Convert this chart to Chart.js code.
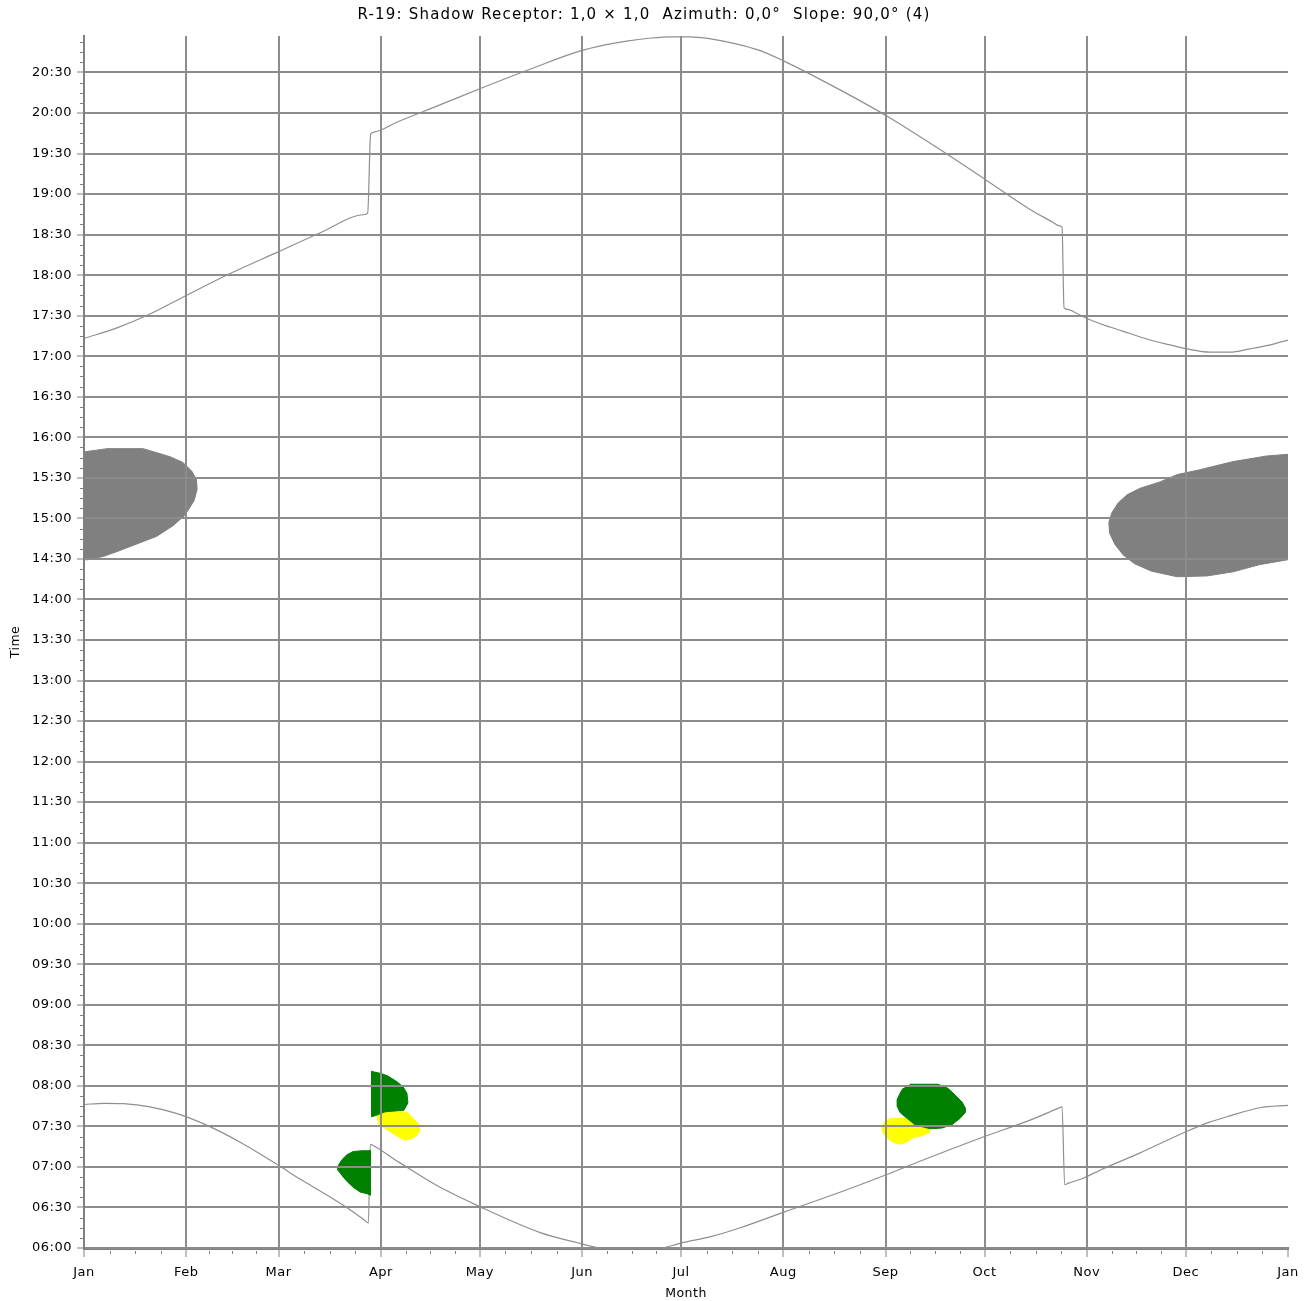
<!DOCTYPE html>
<html>
<head>
<meta charset="utf-8">
<title>R-19 Shadow Receptor</title>
<script src="https://cdn.jsdelivr.net/npm/chart.js@4"></script>
<style>
  html, body { margin: 0; padding: 0; background: #fff; }
  #wrap { width: 1316px; height: 1301px; }
</style>
</head>
<body>
<div id="wrap"><canvas id="shadowChart"></canvas></div>
<script>
// Monate: Tag im Jahr, an dem der Monat beginnt
const monthLabels = ["Jan", "Feb", "Mar", "Apr", "May", "Jun", "Jul", "Aug", "Sep", "Oct", "Nov", "Dec", "Jan"];
const monthStarts = [0, 31, 59, 90, 120, 151, 181, 212, 243, 273, 304, 334, 365];

// Zeitachse in Stunden
const timeMin = 6;
const timeMax = 20.95;
const timeTicks = Array.from({ length: 30 }, (_, i) => 6 + i * 0.5);

// Sonnenaufgang [Tag, Stunde]
const sunrise = [
  [0, 7.77], [6, 7.785], [12, 7.78], [20, 7.74], [28, 7.66], [38, 7.50], [48, 7.29],
  [59, 7.02], [65.5, 6.85], [73, 6.67], [80, 6.49], [85, 6.345], [86.2, 6.31],
  [86.8, 7.28], [87.8, 7.26], [95.8, 7.05], [107, 6.77], [120, 6.51], [138.3, 6.19],
  [151, 6.05], [156, 6.00], [160, 5.97], [166, 5.95], [172, 5.97], [175.5, 6.00],
  [181, 6.06], [190, 6.14], [199, 6.25], [212, 6.44], [230, 6.70], [243, 6.90],
  [254, 7.08], [272, 7.36], [287, 7.58], [295.5, 7.725], [296.5, 7.74], [297.3, 6.78],
  [298.5, 6.80], [302.9, 6.86], [308, 6.96], [320, 7.17], [334.4, 7.44], [341, 7.55],
  [347.4, 7.63], [356.5, 7.73], [365, 7.76]
];

// Sonnenuntergang [Tag, Stunde]
const sunset = [
  [0, 17.22], [10, 17.35], [20, 17.52], [31, 17.75], [44.3, 18.02], [59, 18.29],
  [71.5, 18.52], [84.8, 18.745], [86.0, 18.765], [86.9, 19.74], [87.9, 19.765],
  [95, 19.89], [107.9, 20.10], [120, 20.30], [135.2, 20.54], [150, 20.76], [158, 20.84],
  [165, 20.89], [172, 20.925], [178, 20.94], [184, 20.94], [190, 20.915], [197, 20.86],
  [205, 20.77], [212.2, 20.64], [226.2, 20.35], [243.1, 19.97], [259.5, 19.55],
  [273.2, 19.18], [286.8, 18.81], [293.8, 18.65], [295.5, 18.61], [296.5, 18.59],
  [297.1, 17.60], [298.5, 17.575], [300.4, 17.54], [304.4, 17.46], [311, 17.36],
  [317.1, 17.28], [323.2, 17.20], [329.2, 17.14], [334.4, 17.09], [341.4, 17.05],
  [347.4, 17.05], [353.4, 17.09], [359.6, 17.14], [365, 17.20]
];

// Schattenwurf-Flächen (Umriss) [Tag, Stunde]
const grayJan = [
  [0, 15.82], [7, 15.86], [17.9, 15.86], [22.1, 15.81], [26.1, 15.76], [30, 15.69],
  [32.7, 15.58], [34.1, 15.48], [34.3, 15.36], [33.4, 15.22], [30.6, 15.04], [27, 14.91],
  [22.1, 14.78], [17, 14.70], [10, 14.59], [5.8, 14.53], [1.2, 14.49], [0, 14.49]
];
const grayDec = [
  [365, 15.79], [358.6, 15.77], [348.3, 15.70], [338.3, 15.60], [331.4, 15.54],
  [326.2, 15.45], [320.1, 15.37], [316.2, 15.29], [313.5, 15.19], [311.6, 15.07],
  [310.7, 14.95], [310.9, 14.82], [312.5, 14.68], [315, 14.55], [318.5, 14.44],
  [323.5, 14.35], [331.4, 14.28], [340.4, 14.29], [348.3, 14.34], [356.5, 14.43], [365, 14.49]
];
const greenAprUpper = [
  [87, 8.18], [90.3, 8.15], [92.2, 8.12], [94.9, 8.05], [96.7, 7.99], [97.9, 7.91],
  [98.2, 7.79], [97, 7.70], [91.3, 7.68], [88.2, 7.63], [87, 7.62]
];
const greenMarLower = [
  [87, 7.20], [84.3, 7.20], [81.6, 7.19], [79.7, 7.15], [78.2, 7.09], [77, 7.01],
  [77, 6.96], [78.5, 6.88], [80, 6.81], [81.6, 6.75], [83.7, 6.69], [85.8, 6.67], [87, 6.65]
];
const greenSep = [
  [250.4, 8.02], [258.9, 8.02], [261.9, 7.97], [264, 7.89], [266.2, 7.80], [267.1, 7.73],
  [267.1, 7.67], [265.6, 7.60], [263.1, 7.52], [260.1, 7.48], [256.5, 7.47], [251.9, 7.52],
  [249.5, 7.60], [247.4, 7.67], [246.5, 7.75], [246.5, 7.83], [247.4, 7.91], [248.3, 7.97]
];
const yellowApr = [
  [89.4, 7.68], [91.9, 7.69], [96.4, 7.68], [98.2, 7.67], [99.7, 7.60], [101.3, 7.54],
  [101.9, 7.46], [101, 7.39], [99.4, 7.35], [97.3, 7.33], [94.9, 7.38], [91.9, 7.46],
  [89.4, 7.52], [88.8, 7.64]
];
const yellowSep = [
  [244.3, 7.60], [251.3, 7.60], [253.4, 7.56], [255.6, 7.52], [256.5, 7.43], [254.4, 7.39],
  [251.3, 7.36], [249.5, 7.31], [247.4, 7.28], [245.3, 7.30], [243.4, 7.36], [242.2, 7.42],
  [241.9, 7.48], [242.8, 7.56]
];

const FONT = "'DejaVu Sans', sans-serif";
const GRID = "#8c8c8c";
const AXIS = "#808080";

const toPoints = arr => arr.map(([x, y]) => ({ x, y }));

function zeit(v) {
  const h = Math.floor(v + 1e-6);
  const m = Math.round((v - h) * 60);
  return String(h).padStart(2, "0") + ":" + String(m).padStart(2, "0");
}

function flaeche(data, color) {
  return {
    data: toPoints(data),
    showLine: true,
    fill: "shape",
    backgroundColor: color,
    borderColor: color,
    borderWidth: 1,
    pointRadius: 0,
    tension: 0
  };
}

function kurve(data) {
  return {
    data: toPoints(data),
    showLine: true,
    fill: false,
    borderColor: "#8f8f8f",
    borderWidth: 1.2,
    pointRadius: 0,
    cubicInterpolationMode: "monotone"
  };
}

// breitere Schrift wie im Original (Titel etwas mehr)
const schrift = {
  id: "schrift",
  beforeDraw(chart) { chart.ctx.letterSpacing = "1.2px"; },
  beforeDatasetsDraw(chart) { chart.ctx.letterSpacing = "0.5px"; }
};

// kleine Zwischenstriche an den Achsen
const minorTicks = {
  id: "minorTicks",
  afterDraw(chart) {
    const { ctx, scales: { x, y } } = chart;
    ctx.save();
    ctx.strokeStyle = AXIS;
    ctx.lineWidth = 1;
    ctx.beginPath();
    for (let m = 0; m < monthStarts.length - 1; m++) {
      const a = monthStarts[m], b = monthStarts[m + 1];
      for (let k = 1; k < 4; k++) {
        const px = Math.round(x.getPixelForValue(a + (b - a) * k / 4)) + 0.5;
        ctx.moveTo(px, y.bottom + 3);
        ctx.lineTo(px, y.bottom + 6);
      }
    }
    for (let t = timeMin + 0.125; t <= timeMax; t += 0.125) {
      if (Math.abs(t * 2 - Math.round(t * 2)) < 1e-6) continue;
      const py = Math.round(y.getPixelForValue(t)) + 0.5;
      ctx.moveTo(x.left - 4, py);
      ctx.lineTo(x.left, py);
    }
    ctx.stroke();
    ctx.restore();
  }
};

new Chart(document.getElementById("shadowChart"), {
  type: "scatter",
  data: {
    datasets: [
      flaeche(grayJan, "#808080"),
      flaeche(grayDec, "#808080"),
      flaeche(greenAprUpper, "#008000"),
      flaeche(greenMarLower, "#008000"),
      flaeche(greenSep, "#008000"),
      flaeche(yellowApr, "#ffff00"),
      flaeche(yellowSep, "#ffff00"),
      kurve(sunrise),
      kurve(sunset)
    ]
  },
  options: {
    responsive: true,
    maintainAspectRatio: false,
    animation: false,
    layout: { padding: { left: 0, right: 28, top: 0, bottom: 0 } },
    plugins: {
      legend: { display: false },
      tooltip: { enabled: false },
      title: {
        display: true,
        text: "R-19: Shadow Receptor: 1,0 \u00d7 1,0  Azimuth: 0,0\u00b0  Slope: 90,0\u00b0 (4)",
        color: "#000",
        font: { family: FONT, size: 15, weight: "normal" },
        padding: { top: 6, bottom: 12 }
      }
    },
    scales: {
      x: {
        type: "linear",
        min: 0,
        max: 365,
        afterBuildTicks: s => { s.ticks = monthStarts.map(v => ({ value: v })); },
        afterFit: s => { s.height = 53; },
        ticks: {
          z: 1,
          autoSkip: false,
          maxRotation: 0,
          padding: 8,
          color: "#000",
          font: { family: FONT, size: 13 },
          callback: (v, i) => monthLabels[i]
        },
        grid: {
          z: 1,
          color: c => (c.index === monthStarts.length - 1 ? "rgba(0,0,0,0)" : GRID),
          lineWidth: 2,
          tickColor: AXIS,
          tickWidth: 1,
          tickLength: 9
        },
        border: { z: 1, color: AXIS, width: 3 },
        title: {
          display: true,
          text: "Month",
          color: "#000",
          font: { family: FONT, size: 12.5 },
          padding: { top: 0, bottom: 0 }
        }
      },
      y: {
        type: "linear",
        min: timeMin,
        max: timeMax,
        afterBuildTicks: s => { s.ticks = timeTicks.map(v => ({ value: v })); },
        afterFit: s => { s.width = 84; },
        ticks: {
          z: 1,
          autoSkip: false,
          padding: 5,
          color: "#000",
          font: { family: FONT, size: 13 },
          callback: v => zeit(v)
        },
        grid: {
          z: 1,
          color: GRID,
          lineWidth: 2,
          tickColor: AXIS,
          tickWidth: 1,
          tickLength: 7
        },
        border: { z: 1, color: AXIS, width: 2 },
        title: {
          display: true,
          text: "Time",
          color: "#000",
          font: { family: FONT, size: 12.5 },
          padding: { top: 8, bottom: 0 }
        }
      }
    }
  },
  plugins: [schrift, minorTicks]
});
</script>
</body>
</html>
